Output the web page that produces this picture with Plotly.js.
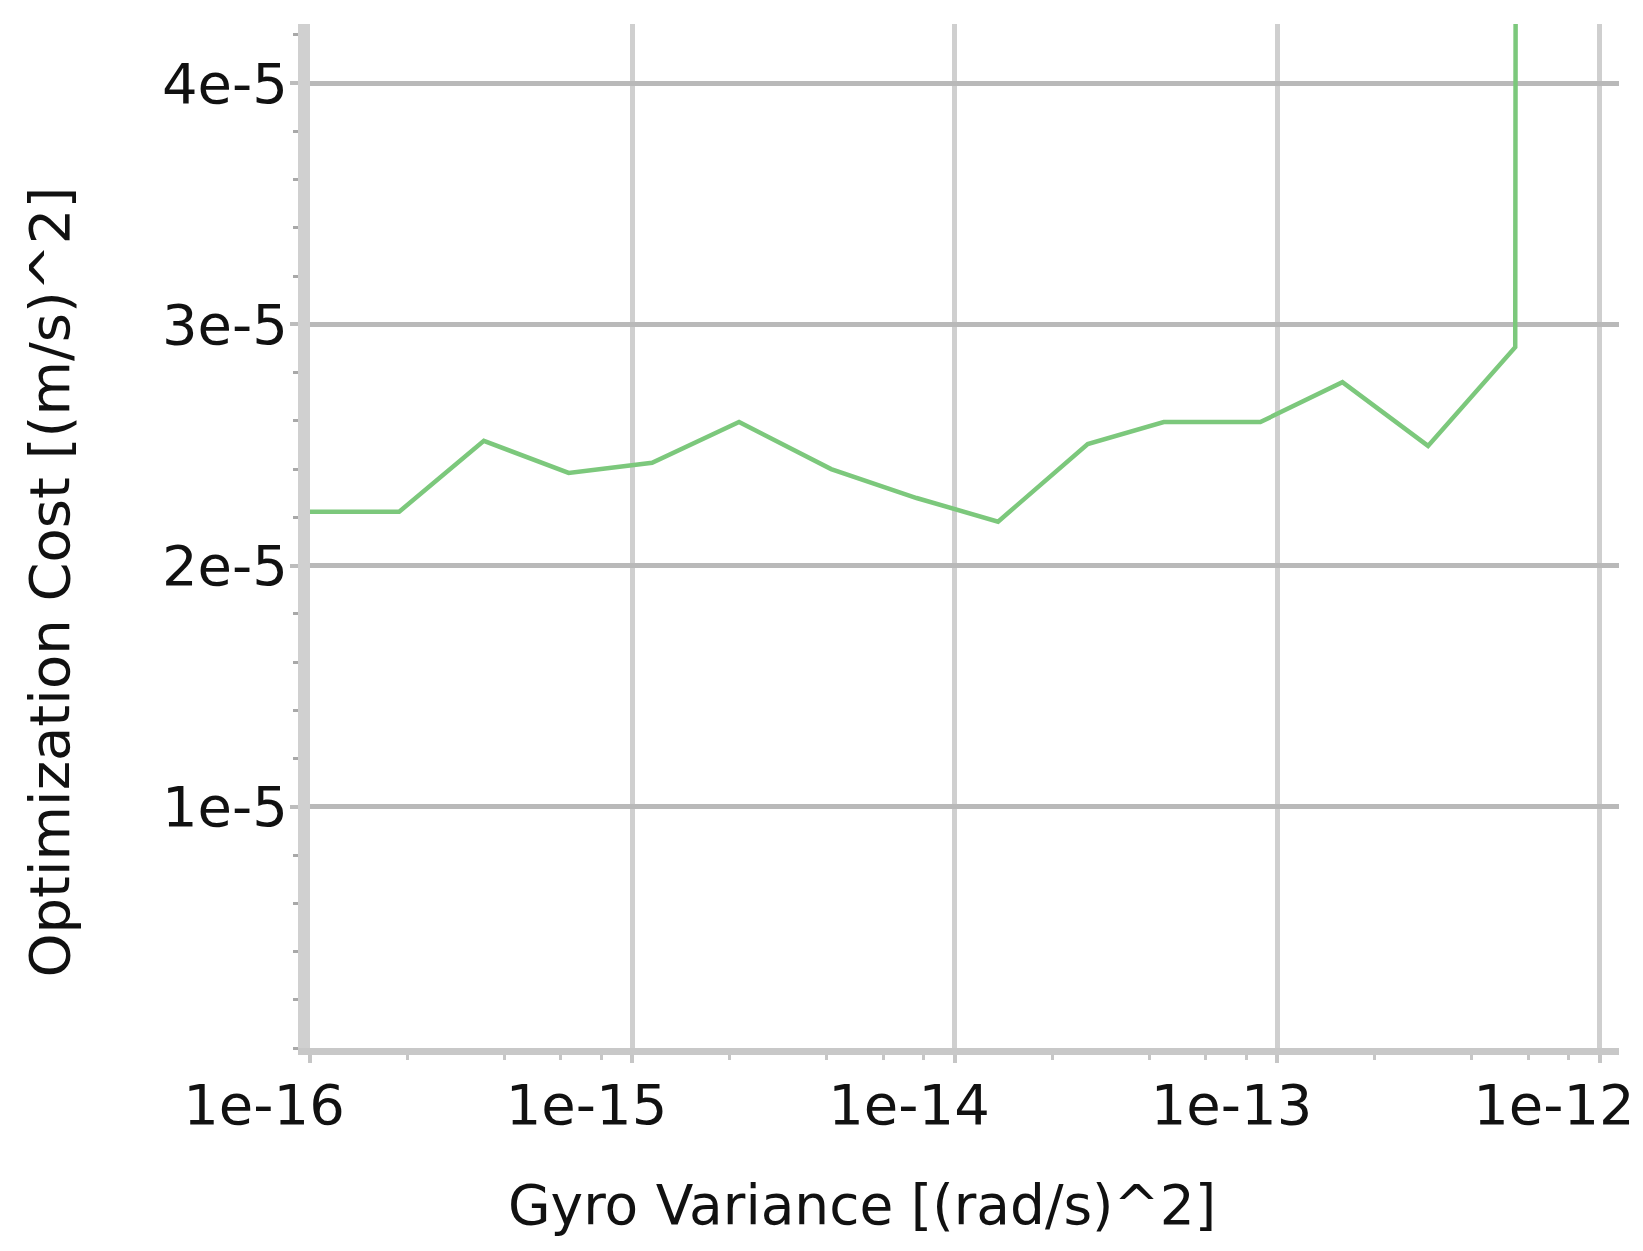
<!DOCTYPE html>
<html>
<head>
<meta charset="utf-8">
<script src="https://cdn.plot.ly/plotly-3.0.1.min.js"></script>
<style>html,body{margin:0;padding:0;background:#fff;}#chart{width:1643px;height:1251px;}</style>
</head>
<body>
<div id="chart"></div>
<script>
// Data
const gyroVariance = [1e-16, 1.89e-16, 3.46e-16, 6.34e-16, 1.15e-15, 2.14e-15, 4.13e-15, 7.6e-15, 1.36e-14, 2.58e-14, 4.44e-14, 8.85e-14, 1.59e-13, 2.93e-13, 5.46e-13, 1e-12];
const optimizationCost = [2.223e-5, 2.223e-5, 2.517e-5, 2.384e-5, 2.426e-5, 2.595e-5, 2.40e-5, 2.28e-5, 2.182e-5, 2.504e-5, 2.595e-5, 2.595e-5, 2.760e-5, 2.496e-5, 2.905e-5, 3e-3];

const xTickVals = [1e-16, 1e-15, 1e-14, 1e-13, 1e-12];
const xTickText = ["1e-16", "1e-15", "1e-14", "1e-13", "1e-12"];
const yTickVals = [1e-5, 2e-5, 3e-5, 4e-5];
const yTickText = ["1e-5", "2e-5", "3e-5", "4e-5"];
const xMinorMultipliers = [2, 4, 6, 8];
const xDecades = [-16, -15, -14, -13];

const xTitle = "Gyro Variance [(rad/s)^2]";
const yTitle = "Optimization Cost [(m/s)^2]";

const xMinorVals = [];
xDecades.forEach(d => xMinorMultipliers.forEach(m => xMinorVals.push(m * Math.pow(10, d))));

const FONT = "DejaVu Sans, Verdana, sans-serif";

const trace = {
  x: gyroVariance,
  y: optimizationCost,
  type: "scatter",
  mode: "lines",
  line: {color: "#7cc87c", width: 4.5},
  hoverinfo: "skip",
  showlegend: false
};

const layout = {
  width: 1643,
  height: 1251,
  margin: {l: 310, r: 24, t: 24, b: 203, pad: 0},
  paper_bgcolor: "#ffffff",
  plot_bgcolor: "#ffffff",
  showlegend: false,
  font: {family: FONT, color: "#111111"},
  xaxis: {
    type: "log",
    range: [-16, -11.941],
    showgrid: true,
    gridcolor: "#cfcfcf",
    gridwidth: 5,
    zeroline: false,
    showline: true,
    linecolor: "#c8c8c8",
    linewidth: 7,
    ticks: "outside",
    ticklen: 8,
    tickwidth: 4,
    tickcolor: "#c6c6c6",
    tickmode: "array",
    tickvals: xTickVals,
    ticktext: xTickText,
    tickfont: {family: FONT, size: 56, color: "#111111"},
    ticklabelshift: -46,
    ticklabelstandoff: -6,
    minor: {
      tickmode: "array",
      tickvals: xMinorVals,
      ticks: "outside",
      ticklen: 5,
      tickwidth: 3,
      tickcolor: "#c6c6c6",
      showgrid: false
    }
  },
  yaxis: {
    range: [0, 4.245e-5],
    showgrid: true,
    gridcolor: "#b9b9b9",
    gridwidth: 5,
    zeroline: false,
    showline: true,
    linecolor: "#d0d0d0",
    linewidth: 12,
    ticks: "outside",
    ticklen: 8,
    tickwidth: 4,
    tickcolor: "#bdbdbd",
    tickmode: "array",
    tickvals: yTickVals,
    ticktext: yTickText,
    tickfont: {family: FONT, size: 56, color: "#111111"},
    ticklabelstandoff: -9,
    minor: {
      dtick: 2e-6,
      tick0: 0,
      ticks: "outside",
      ticklen: 5,
      tickwidth: 3,
      tickcolor: "#a9a9a9",
      showgrid: false
    }
  },
  annotations: [
    {
      text: xTitle,
      xref: "paper", yref: "paper",
      x: 0.422, y: -0.153,
      xanchor: "center", yanchor: "middle",
      showarrow: false,
      font: {family: FONT, size: 55, color: "#111111"}
    },
    {
      text: yTitle,
      xref: "paper", yref: "paper",
      x: -0.199, y: 0.455,
      xanchor: "center", yanchor: "middle",
      textangle: -90,
      showarrow: false,
      font: {family: FONT, size: 56, color: "#111111"}
    }
  ]
};

Plotly.newPlot("chart", [trace], layout, {displayModeBar: false, staticPlot: true});
</script>
</body>
</html>
